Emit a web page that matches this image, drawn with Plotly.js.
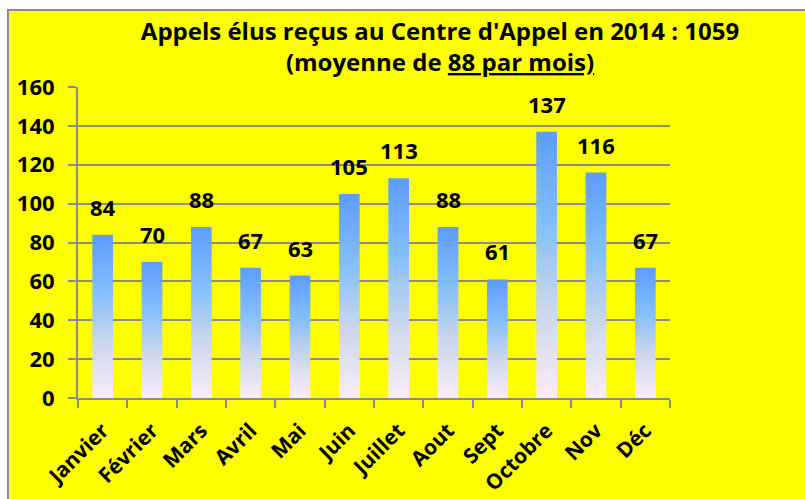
<!DOCTYPE html>
<html>
<head>
<meta charset="utf-8">
<script src="https://cdn.plot.ly/plotly-3.0.1.min.js"></script>
<style>
  html, body { margin: 0; padding: 0; background: #ffffff; width: 805px; height: 499px; overflow: hidden; }
  #chart { position: absolute; left: 7px; top: 9px; width: 796px; height: 488px;
           border-left: 2px solid #8c8c8c; border-top: 2px solid #8c8c8c; }
</style>
</head>
<body>
<div id="chart"></div>
<script>
const months = ["Janvier", "Février", "Mars", "Avril", "Mai", "Juin", "Juillet", "Aout", "Sept", "Octobre", "Nov", "Déc"];
const calls = [84, 70, 88, 67, 63, 105, 113, 88, 61, 137, 116, 67];
const yTicks = [0, 20, 40, 60, 80, 100, 120, 140, 160];
const titleLine1 = "Appels élus reçus au Centre d'Appel en 2014 : 1059";
const titleLine2 = "(moyenne de <u>88 par mois)</u>";

const FONT = "'Open Sans', 'Noto Sans', sans-serif";
const GRAY = "#8c8c8c";
const YELLOW = "#ffff00";

const barTrace = {
  type: "bar",
  x: months,
  y: calls,
  width: 0.42,
  marker: { color: "#84bffc", line: { width: 0 } },
  hoverinfo: "x+y"
};

const valueLabels = months.map((m, i) => ({
  x: m, y: calls[i], xref: "x", yref: "y",
  text: "<b>" + calls[i] + "</b>",
  showarrow: false, yanchor: "bottom", yshift: 11,
  font: { family: FONT, size: 22, color: "#000000" }
}));

const layout = {
  width: 796, height: 488,
  paper_bgcolor: YELLOW, plot_bgcolor: YELLOW,
  margin: { l: 69, r: 135, t: 76, b: 101, pad: 0 },
  showlegend: false,
  title: {
    text: "<b>" + titleLine1 + "<br>" + titleLine2 + "</b>",
    font: { family: FONT, size: 24, color: "#000000" },
    x: 0.5415, xref: "container", xanchor: "center",
    y: 0.941, yref: "container", yanchor: "middle"
  },
  xaxis: {
    type: "category",
    tickson: "boundaries",
    ticks: "outside", ticklen: 8, tickwidth: 2, tickcolor: GRAY,
    showline: true, linecolor: GRAY, linewidth: 2,
    showgrid: false, zeroline: false,
    tickangle: -45,
    ticklabelstandoff: 10,
    tickfont: { family: FONT, size: 21, color: "#000000", weight: "bold" },
    range: [-0.5, 11.5]
  },
  yaxis: {
    range: [0, 160],
    tickvals: yTicks,
    ticks: "outside", ticklen: 8, tickwidth: 2, tickcolor: GRAY,
    showline: true, linecolor: GRAY, linewidth: 2,
    showgrid: true, gridcolor: GRAY, gridwidth: 2,
    zeroline: false,
    ticklabelstandoff: 9,
    tickfont: { family: FONT, size: 22, color: "#000000", weight: "bold" }
  },
  shapes: [{
    type: "rect", xref: "paper", yref: "paper",
    x0: 0.071, x1: 1.25, y0: 0.994, y1: 1.2,
    fillcolor: YELLOW, line: { width: 0 }, layer: "above"
  }],
  annotations: valueLabels
};

Plotly.newPlot("chart", [barTrace], layout, { displayModeBar: false, staticPlot: true }).then(function (gd) {
  const NS = "http://www.w3.org/2000/svg";
  const defs = gd.querySelector(".main-svg defs");
  const grad = document.createElementNS(NS, "linearGradient");
  grad.setAttribute("id", "barGradient");
  grad.setAttribute("x1", "0"); grad.setAttribute("y1", "1");
  grad.setAttribute("x2", "0"); grad.setAttribute("y2", "0");
  [["0", "#fbedf9"], ["0.35", "#c8d6ec"], ["0.65", "#84bffc"], ["1", "#5d9cfd"]].forEach(function (s) {
    const stop = document.createElementNS(NS, "stop");
    stop.setAttribute("offset", s[0]);
    stop.setAttribute("stop-color", s[1]);
    grad.appendChild(stop);
  });
  defs.appendChild(grad);
  gd.querySelectorAll(".bars .point path").forEach(function (p) {
    p.style.fill = "url(#barGradient)";
  });
});
</script>
</body>
</html>
